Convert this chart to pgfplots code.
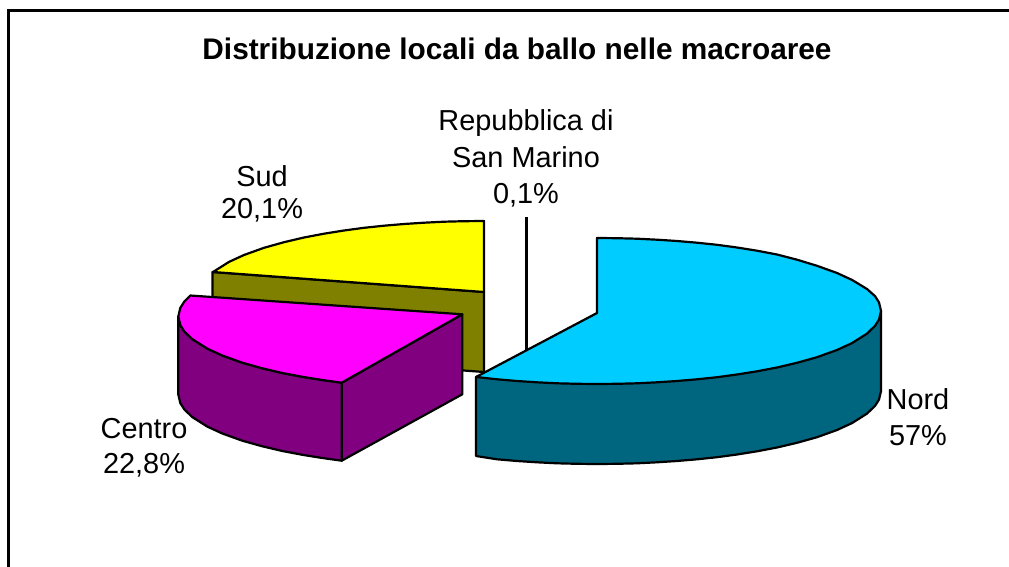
\documentclass[border=0pt]{standalone}
\usepackage{fontspec}
\setmainfont{Liberation Sans}
\usepackage{pgfplots}
\pgfplotsset{compat=1.18}
\definecolor{nordtop}{RGB}{0,204,255}
\definecolor{nordside}{RGB}{0,102,128}
\definecolor{sudtop}{RGB}{255,255,0}
\definecolor{sudside}{RGB}{128,128,0}
\definecolor{centrotop}{RGB}{255,0,255}
\definecolor{centroside}{RGB}{128,0,128}
\begin{document}
\begin{tikzpicture}
\useasboundingbox (0,0) rectangle (1009bp,567bp);
\begin{axis}[
  at={(0,0)}, anchor=south west,
  scale only axis, width=1009bp, height=567bp,
  xmin=0, xmax=1009, ymin=0, ymax=567, y dir=reverse,
  axis lines=none, clip=true,
]
% frame
\addplot[draw=black, line width=2.2bp, mark=none] coordinates {(8.5,567) (8.5,10.5) (1009,10.5)};
% leader line
\addplot[draw=black, line width=2.2bp, mark=none] coordinates {(526.5,217) (526.5,354)};
% Sud
\addplot[draw=black, line width=2.2bp, line join=round, mark=none, fill=sudside] coordinates {(212.5,272) (484,292) (484,372) (212.5,352)} --cycle;
\addplot[draw=black, line width=2.2bp, line join=round, mark=none, fill=sudtop] coordinates {(484,292) (484,221) (464,221.2) (444,221.7) (424,222.7) (404,224) (384,225.7) (364,227.8) (344,230.5) (324,233.7) (304,237.5) (284,242.2) (264,247.8) (244,255) (229,261.9) (213,272)} --cycle;
% Centro
\addplot[draw=black, line width=2.2bp, line join=round, mark=none, fill=centroside] coordinates {(341.7,382.7) (462.3,314.3) (462.3,394.3) (341.7,460.7)} --cycle;
\addplot[draw=black, line width=2.2bp, line join=round, mark=none, fill=centroside] coordinates {(178.3,316.5) (180.3,325.1) (184.3,331.4) (192.3,339.1) (207.3,348.6) (222.3,355.5) (242.3,362.7) (262.3,368.3) (282.3,373) (302.3,376.8) (322.3,380) (341.7,382.7) (341.7,460.7) (322.3,458) (302.3,454.8) (282.3,451) (262.3,446.3) (242.3,440.7) (222.3,433.5) (207.3,426.6) (192.3,417.1) (184.3,409.4) (180.3,403.1) (178.3,394.5)} --cycle;
\addplot[draw=black, line width=2.2bp, line join=round, mark=none, fill=centrotop] coordinates {(341.7,382.7) (462.3,314.3) (190.3,295.5) (184.3,301.6) (180.3,307.9) (178.3,316.5) (180.3,325.1) (184.3,331.4) (192.3,339.1) (207.3,348.6) (222.3,355.5) (242.3,362.7) (262.3,368.3) (282.3,373) (302.3,376.8) (322.3,380)} --cycle;
% Nord
\addplot[draw=black, line width=2.2bp, line join=round, mark=none, fill=nordside] coordinates {(476,377) (476,456) (497,459.3) (517,461) (537,462.3) (557,463.3) (577,463.8) (597,464) (617,463.8) (637,463.3) (657,462.3) (677,461) (697,459.3) (717,457.2) (737,454.5) (757,451.3) (777,447.5) (797,442.8) (817,437.2) (837,430) (852,423.1) (867,413.6) (875,405.9) (879,399.6) (881,391) (881,311)} --cycle;
\addplot[draw=black, line width=2.2bp, line join=round, mark=none, fill=nordtop] coordinates {(597,313) (597,238) (617,238.2) (637,238.7) (657,239.7) (677,241) (697,242.7) (717,244.8) (737,247.5) (757,250.7) (777,254.5) (797,259.7) (817,265.8) (837,273) (852,279.9) (867,289) (875,296.1) (879,302.4) (881,311) (879,319.6) (875,325.9) (867,333.6) (852,343.1) (837,350) (817,357.2) (797,362.8) (777,367.5) (757,371.3) (737,374.5) (717,377.2) (697,379.3) (677,381) (657,382.3) (637,383.3) (617,383.8) (597,384) (577,383.8) (557,383.3) (537,382.3) (517,381) (497,379.3) (476,377)} --cycle;
% texts
\node[anchor=base, font=\fontsize{29.9}{30}\selectfont\bfseries] at (axis cs:517,60) {Distribuzione locali da ballo nelle macroaree};
\tikzset{lab/.style={anchor=base, font=\fontsize{29}{30}\selectfont}}
\node[lab] at (axis cs:526,130) {Repubblica di};
\node[lab] at (axis cs:526,167) {San Marino};
\node[lab] at (axis cs:526,203) {0,1\%};
\node[lab] at (axis cs:262,186) {Sud};
\node[lab] at (axis cs:262,218) {20,1\%};
\node[lab] at (axis cs:144,438) {Centro};
\node[lab] at (axis cs:144,473) {22,8\%};
\node[lab] at (axis cs:918,409) {Nord};
\node[lab] at (axis cs:918,445) {57\%};
\end{axis}
\end{tikzpicture}
\end{document}
